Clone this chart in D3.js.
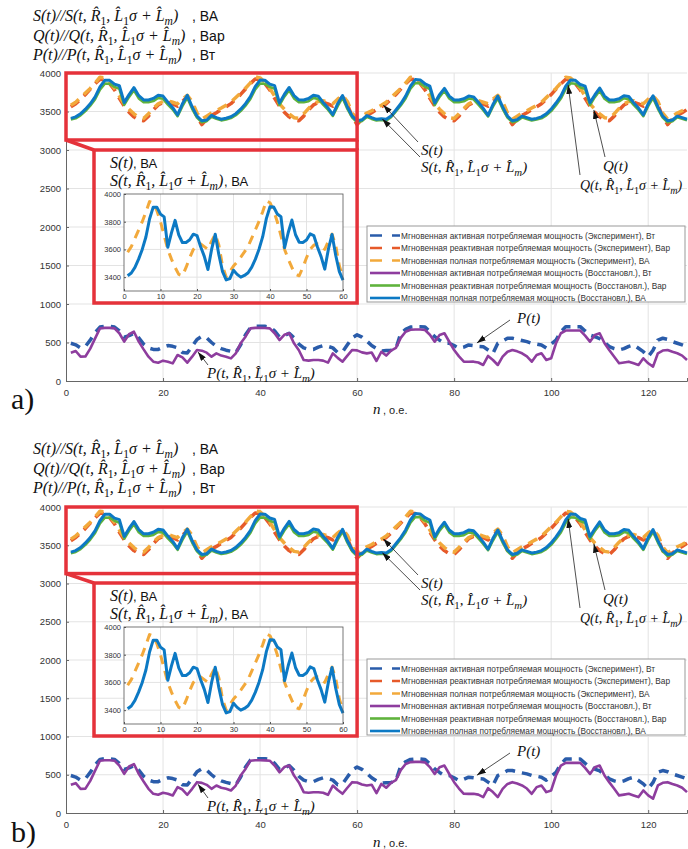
<!DOCTYPE html>
<head>
<meta charset="utf-8">
<style>
  body { margin: 0; background: #fff; }
</style>
<script src="https://d3js.org/d3.v7.min.js"></script>
</head>
<body>
<script>
// sample index n = 1..128
var nIdx = d3.range(1, 129);

// instantaneous power, experiment (dashed)
var pExp = [
  490,470,430,450,530,630,700,710,710,700,650,570,590,620,560,480,430,410,410,440,460,450,430,370,365,450,540,580,560,500,450,420,
  400,385,370,470,600,690,710,710,710,700,650,570,590,620,560,480,430,410,410,440,460,450,430,370,380,470,560,600,570,520,460,420,
  390,395,400,420,620,670,700,706,706,700,640,576,530,490,490,460,425,440,468,460,450,446,403,360,490,520,555,555,540,525,511,490,
  480,468,428,480,532,640,706,706,706,706,650,597,575,550,500,446,420,403,420,450,468,425,381,316,400,532,555,540,511,490,470,446
];
var qExp = [
  3560,3600,3660,3720,3790,3860,3920,3915,3860,3780,3670,3570,3490,3430,3390,3380,3440,3520,3585,3615,3620,3600,3570,3630,3690,3590,3430,3330,3400,3450,3485,3525,
  3562,3602,3662,3722,3792,3862,3922,3915,3860,3780,3670,3570,3490,3430,3390,3380,3440,3520,3585,3615,3620,3600,3570,3630,3690,3590,3430,3330,3400,3450,3485,3525,
  3560,3600,3660,3720,3790,3860,3920,3915,3860,3780,3670,3570,3490,3430,3390,3380,3440,3520,3585,3615,3620,3600,3570,3630,3690,3590,3430,3330,3400,3450,3485,3525,
  3560,3600,3660,3720,3790,3860,3920,3915,3860,3780,3670,3570,3490,3430,3390,3380,3440,3520,3585,3615,3620,3600,3570,3630,3685,3590,3430,3330,3400,3450,3485,3525
];
var sExp = [
  3580,3620,3680,3740,3800,3870,3945,3935,3880,3800,3700,3600,3530,3470,3420,3410,3470,3540,3600,3630,3640,3620,3600,3660,3710,3630,3480,3400,3440,3480,3510,3545,
  3582,3622,3682,3742,3802,3872,3950,3937,3880,3800,3700,3600,3530,3470,3420,3410,3470,3540,3600,3630,3640,3620,3600,3660,3710,3630,3480,3400,3440,3480,3510,3545,
  3580,3620,3680,3740,3800,3870,3945,3935,3880,3800,3700,3600,3530,3470,3420,3410,3470,3540,3600,3630,3640,3620,3600,3660,3710,3630,3480,3400,3440,3480,3510,3545,
  3580,3620,3680,3740,3800,3870,3945,3935,3880,3800,3700,3600,3530,3470,3420,3410,3470,3540,3600,3630,3640,3620,3600,3660,3705,3630,3480,3400,3440,3480,3510,3545
];

// reconstructed (solid)
var pRec = [
  368,390,316,318,420,554,684,690,690,684,620,511,608,640,511,411,316,251,238,264,251,229,338,307,238,316,403,394,368,316,359,330,
  316,294,359,489,576,684,690,690,688,684,620,532,600,620,489,400,272,265,272,272,265,238,359,300,251,330,403,398,372,359,370,260,
  380,330,395,430,560,640,665,668,668,662,600,510,598,620,510,403,320,251,250,251,240,208,325,273,208,316,380,403,385,360,320,251,
  338,360,273,295,490,620,655,655,655,655,590,511,598,620,490,400,316,230,240,251,230,208,295,230,187,360,395,403,380,360,330,273
];
var qRec = [
  3395,3412,3450,3505,3575,3660,3785,3862,3860,3820,3795,3585,3690,3775,3670,3620,3620,3635,3675,3665,3590,3525,3440,3570,3680,3535,3420,3360,3375,3430,3405,3385,
  3396,3414,3452,3506,3576,3662,3786,3864,3860,3820,3796,3584,3692,3776,3670,3620,3620,3634,3676,3664,3590,3524,3442,3570,3680,3534,3420,3360,3376,3430,3404,3384,
  3390,3382,3425,3500,3578,3670,3795,3870,3865,3822,3792,3582,3690,3770,3668,3620,3620,3632,3668,3658,3590,3518,3436,3562,3672,3535,3420,3362,3378,3424,3404,3384,
  3395,3412,3450,3505,3582,3668,3792,3866,3860,3816,3792,3585,3686,3770,3666,3620,3620,3632,3672,3660,3586,3520,3440,3570,3676,3535,3420,3360,3375,3425,3405,3385
];
var sRec = [
  3410,3430,3470,3530,3600,3690,3820,3905,3905,3855,3835,3615,3720,3810,3705,3650,3650,3670,3710,3700,3620,3550,3455,3600,3710,3560,3440,3380,3390,3450,3420,3400,
  3412,3432,3472,3530,3602,3692,3822,3908,3906,3856,3836,3612,3722,3812,3706,3652,3650,3668,3712,3700,3618,3548,3458,3602,3708,3558,3440,3378,3392,3448,3420,3398,
  3405,3398,3440,3520,3600,3700,3830,3915,3910,3860,3830,3610,3720,3800,3700,3650,3650,3665,3700,3690,3620,3540,3450,3590,3700,3560,3440,3380,3395,3440,3420,3400,
  3410,3430,3470,3530,3610,3700,3830,3910,3905,3850,3830,3615,3715,3805,3700,3650,3650,3665,3705,3695,3615,3545,3455,3600,3705,3560,3440,3380,3390,3440,3420,3400
];

var xTicks = [0, 20, 40, 60, 80, 100, 120];
var yTicks = [0, 500, 1000, 1500, 2000, 2500, 3000, 3500, 4000];
var insetXTicks = [0, 10, 20, 30, 40, 50, 60];
var insetYTicks = [3400, 3600, 3800, 4000];

var legendLabels = [
  "Мгновенная активная потребляемая мощность (Эксперимент), Вт",
  "Мгновенная реактивная потребляемая мощность (Эксперимент), Вар",
  "Мгновенная полная потребляемая мощность (Эксперимент), ВА",
  "Мгновенная активная потребляемая мощность (Восстановл.), Вт",
  "Мгновенная реактивная потребляемая мощность (Восстановл.), Вар",
  "Мгновенная полная потребляемая мощность (Восстановл.), ВА"
];
var headerUnits = [", ВА", ", Вар", ", Вт"];

var series = [
  {data: pExp, color: "#2a5caa", dash: "10,7", w: 3.5},
  {data: qExp, color: "#e65a2a", dash: "10,7", w: 3.5},
  {data: sExp, color: "#f2a93b", dash: "10,7", w: 3.5},
  {data: pRec, color: "#8e3d9e", dash: null, w: 2.6},
  {data: qRec, color: "#5fb33c", dash: null, w: 2.6},
  {data: sRec, color: "#0c79c4", dash: null, w: 3}
];

var W = 688, H = 849;
var serif = "'Liberation Serif','DejaVu Serif',serif";
var sans = "Arial,'Liberation Sans',sans-serif";
var red = "#e5323a";

var svg = d3.select("body").append("svg").attr("width", W).attr("height", H);
svg.append("rect").attr("width", W).attr("height", H).attr("fill", "#fff");

svg.append("defs").append("marker")
    .attr("id", "arr")
    .attr("markerUnits", "userSpaceOnUse")
    .attr("markerWidth", 9).attr("markerHeight", 6)
    .attr("refX", 9).attr("refY", 3)
    .attr("orient", "auto")
  .append("path").attr("d", "M0,0 L9,3 L0,6 Z").attr("fill", "#111");

var x = d3.scaleLinear().domain([0, 128]).range([66, 687]);
var fmt = d3.format("d");

// math label with italic / subscript pieces
function mathText(g, px, py, segs, size) {
  var t = g.append("text").attr("x", px).attr("y", py)
      .attr("font-family", serif).attr("font-size", size).attr("fill", "#111");
  var shift = 0;
  segs.forEach(function(s) {
    var sub = s[1] == "s" || s[1] == "si";
    var target = sub ? size * 0.28 : 0;
    t.append("tspan")
      .attr("dy", target - shift)
      .attr("font-size", sub ? size * 0.72 : size)
      .attr("font-style", (s[1] == "i" || s[1] == "si") ? "italic" : "normal")
      .text(s[0]);
    shift = target;
  });
  return t;
}
function args(L) {
  return [[L + "(t, R\u0302", "i"], ["1", "s"], [", L\u0302", "i"], ["1", "s"],
          ["\u03c3 + L\u0302", "i"], ["m", "si"], [")", "i"]];
}

function drawPanel(dy, top, bottom, letter) {
  var g = svg.append("g");
  var y = d3.scaleLinear().domain([0, 4000]).range([bottom, top]);

  // header
  ["S", "Q", "P"].forEach(function(L, i) {
    mathText(g, 33, 21 + dy + i * 19.5, [[L + "(t)//", "i"]].concat(args(L)), 16);
    g.append("text").attr("x", 192).attr("y", 21 + dy + i * 19.5)
      .attr("font-family", sans).attr("font-size", 14).attr("fill", "#111")
      .text(headerUnits[i]);
  });

  // grid
  g.append("g").selectAll("line").data(xTicks.slice(1)).join("line")
    .attr("x1", d => x(d)).attr("x2", d => x(d))
    .attr("y1", top).attr("y2", bottom)
    .attr("stroke", "#e3e3e3").attr("stroke-width", 1);
  g.append("g").selectAll("line").data(yTicks.slice(1)).join("line")
    .attr("x1", x(0)).attr("x2", x(128))
    .attr("y1", d => y(d)).attr("y2", d => y(d))
    .attr("stroke", "#e3e3e3").attr("stroke-width", 1);

  // series
  var line = d3.line().x((d, i) => x(nIdx[i])).y(d => y(d));
  series.forEach(function(s) {
    g.append("path").datum(s.data)
      .attr("d", line)
      .attr("fill", "none")
      .attr("stroke", s.color)
      .attr("stroke-width", s.w)
      .attr("stroke-linejoin", "round")
      .attr("stroke-dasharray", s.dash);
  });

  // axes
  var ax = g.append("g").attr("transform", "translate(0," + bottom + ")")
    .call(d3.axisBottom(x).tickValues(xTicks).tickFormat(fmt).tickSize(-3).tickPadding(8));
  var ay = g.append("g").attr("transform", "translate(" + x(0) + ",0)")
    .call(d3.axisLeft(y).tickValues(yTicks).tickFormat(fmt).tickSize(-3).tickPadding(5));
  [ax, ay].forEach(function(a) {
    a.select(".domain").attr("stroke", "#666");
    a.selectAll(".tick line").attr("stroke", "#666");
    a.selectAll("text").attr("font-family", sans).attr("font-size", 9.5).attr("fill", "#333");
  });

  // zoom frame on the main plot and the inset frame
  var bx0 = x(0), bx1 = x(60), by0 = y(4000), by1 = y(3130);
  g.append("rect").attr("x", bx0).attr("y", by0)
    .attr("width", bx1 - bx0).attr("height", by1 - by0)
    .attr("fill", "none").attr("stroke", red).attr("stroke-width", 3.5);
  g.append("path")
    .attr("d", "M" + bx0 + "," + by1 + "L94," + (150 + dy) + "M" + bx1 + "," + by1 + "L" + bx1 + "," + (150 + dy))
    .attr("fill", "none").attr("stroke", red).attr("stroke-width", 3.5);
  g.append("rect").attr("x", 94).attr("y", 150 + dy)
    .attr("width", bx1 - 94).attr("height", 153)
    .attr("fill", "none").attr("stroke", red).attr("stroke-width", 3.5);

  // inset titles
  mathText(g, 110, 168 + dy, [["S(t)", "i"]], 16);
  g.append("text").attr("x", 133).attr("y", 168 + dy)
    .attr("font-family", sans).attr("font-size", 13).attr("fill", "#111").text(", ВА");
  mathText(g, 110, 186 + dy, args("S"), 16);
  g.append("text").attr("x", 224).attr("y", 186 + dy)
    .attr("font-family", sans).attr("font-size", 13).attr("fill", "#111").text(", ВА");

  // inset axes
  var ix = d3.scaleLinear().domain([0, 60]).range([124, 343]);
  var iy = d3.scaleLinear().domain([3300, 4000]).range([291 + dy, 194 + dy]);
  var ig = g.append("g");
  ig.append("rect").attr("x", ix(0)).attr("y", iy(4000))
    .attr("width", ix(60) - ix(0)).attr("height", iy(3300) - iy(4000)).attr("fill", "#fff");
  ig.append("g").selectAll("line").data(insetXTicks.slice(1, -1)).join("line")
    .attr("x1", d => ix(d)).attr("x2", d => ix(d)).attr("y1", iy(4000)).attr("y2", iy(3300))
    .attr("stroke", "#e3e3e3");
  ig.append("g").selectAll("line").data(insetYTicks.slice(0, -1)).join("line")
    .attr("x1", ix(0)).attr("x2", ix(60)).attr("y1", d => iy(d)).attr("y2", d => iy(d))
    .attr("stroke", "#e3e3e3");
  var iline = d3.line().x((d, i) => ix(nIdx[i])).y(d => iy(d));
  [series[2], series[5]].forEach(function(s) {
    ig.append("path").datum(s.data.slice(0, 60))
      .attr("d", iline).attr("fill", "none")
      .attr("stroke", s.color).attr("stroke-width", 3)
      .attr("stroke-linejoin", "round")
      .attr("stroke-dasharray", s.dash ? "9,7" : null);
  });
  ig.append("rect").attr("x", ix(0)).attr("y", iy(4000))
    .attr("width", ix(60) - ix(0)).attr("height", iy(3300) - iy(4000))
    .attr("fill", "none").attr("stroke", "#555").attr("stroke-width", 0.8);
  var iax = ig.append("g").attr("transform", "translate(0," + iy(3300) + ")")
    .call(d3.axisBottom(ix).tickValues(insetXTicks).tickFormat(fmt).tickSize(-2).tickPadding(3));
  var iay = ig.append("g").attr("transform", "translate(" + ix(0) + ",0)")
    .call(d3.axisLeft(iy).tickValues(insetYTicks).tickFormat(fmt).tickSize(-2).tickPadding(3));
  [iax, iay].forEach(function(a) {
    a.select(".domain").remove();
    a.selectAll(".tick line").attr("stroke", "#555");
    a.selectAll("text").attr("font-family", sans).attr("font-size", 7.5).attr("fill", "#333");
  });

  // legend
  var lg = g.append("g").attr("transform", "translate(367," + (226 + dy) + ")");
  lg.append("rect").attr("width", 318).attr("height", 76)
    .attr("fill", "#fff").attr("stroke", "#999").attr("stroke-width", 1);
  series.forEach(function(s, i) {
    var ry = 9.5 + i * 12.5;
    lg.append("line").attr("x1", 3).attr("x2", 33).attr("y1", ry).attr("y2", ry)
      .attr("stroke", s.color).attr("stroke-width", 2.6)
      .attr("stroke-dasharray", s.dash ? "12,10" : null);
    lg.append("text").attr("x", 34).attr("y", ry + 3)
      .attr("font-family", sans).attr("font-size", 8.3).attr("fill", "#333")
      .text(legendLabels[i]);
  });

  // annotations
  var notes = [
    {segs: [["S(t)", "i"]], tx: 421, ty: 155, size: 15, from: [418, 142], to: [65.4, 3584]},
    {segs: args("S"), tx: 421, ty: 172, size: 15, from: [420, 157], to: [65.2, 3402]},
    {segs: [["Q(t)", "i"]], tx: 603, ty: 171, size: 15, from: [605, 157], to: [108.8, 3520]},
    {segs: args("Q"), tx: 580, ty: 190, size: 14, from: [580, 175], to: [103.5, 3845]},
    {segs: [["P(t)", "i"]], tx: 517, ty: 323, size: 15, from: [510, 320], to: [84.7, 494]},
    {segs: args("P"), tx: 207, ty: 378, size: 15, from: [208, 365], to: [27.2, 377]}
  ];
  notes.forEach(function(nt) {
    g.append("line")
      .attr("x1", nt.from[0]).attr("y1", nt.from[1] + dy)
      .attr("x2", x(nt.to[0])).attr("y2", y(nt.to[1]))
      .attr("stroke", "#222").attr("stroke-width", 0.8)
      .attr("marker-end", "url(#arr)");
    mathText(g, nt.tx, nt.ty + dy, nt.segs, nt.size);
  });

  // x label and panel letter
  mathText(g, 373, 414 + dy, [["n", "i"]], 15);
  g.append("text").attr("x", 383).attr("y", 414 + dy)
    .attr("font-family", sans).attr("font-size", 11).attr("fill", "#222").text(", о.е.");
  g.append("text").attr("x", 11).attr("y", 409 + dy)
    .attr("font-family", serif).attr("font-size", 30).attr("fill", "#111").text(letter);
}

drawPanel(0, 73, 381, "a)");
drawPanel(433, 507, 813, "b)");
</script>
</body>
